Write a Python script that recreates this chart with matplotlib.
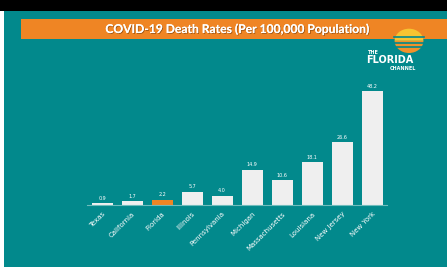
import matplotlib
matplotlib.use("Agg")
import matplotlib.pyplot as plt
import matplotlib.patheffects as pe
from matplotlib.patches import Rectangle, Wedge

states = ['Texas', 'California', 'Florida', 'Illinois', 'Pennsylvania',
          'Michigan', 'Massachusetts', 'Louisiana', 'New Jersey', 'New York']
death_rates = [0.9, 1.7, 2.2, 5.7, 4.0, 14.9, 10.6, 18.1, 26.6, 48.2]
highlight = 'Florida'

teal = '#02898c'
orange = '#ef8524'
bar_grey = '#efefef'

fig = plt.figure(figsize=(4.47, 2.68), dpi=100)
fig.patch.set_facecolor('white')

# background panels: black strip, teal slide, orange title banner
fig.patches.append(Rectangle((0, 1 - 11 / 268), 1, 11 / 268, transform=fig.transFigure,
                             facecolor='black', edgecolor='none', zorder=-3))
fig.patches.append(Rectangle((4 / 447, 1 / 268), 1, 1 - 12 / 268, transform=fig.transFigure,
                             facecolor=teal, edgecolor='none', zorder=-3))
fig.patches.append(Rectangle((21 / 447, 1 - 39 / 268), 1, 20 / 268, transform=fig.transFigure,
                             facecolor=orange, edgecolor='none', zorder=-2))

fig.text(238 / 447, 1 - 29.5 / 268, 'COVID-19 Death Rates (Per 100,000 Population)',
         ha='center', va='center', color='white', fontsize=8.7, fontweight='bold',
         family='Lato',
         path_effects=[pe.withSimplePatchShadow(offset=(0.6, -0.6), shadow_rgbFace='#8a4a10', alpha=0.8),
                       pe.Normal()])

# logo
logo = fig.add_axes([393 / 447, 1 - 53 / 268, 32 / 447, 27 / 268])
logo.set_xlim(-1, 1)
logo.set_ylim(-1, 1)
logo.axis('off')
logo.add_patch(Wedge((0, -0.1), 0.9, 0, 180, facecolor='#f6c431', edgecolor='none'))
logo.add_patch(Wedge((0, -0.1), 0.9, 180, 360, facecolor='#f2922a', edgecolor='none'))
for yy in (0.15, -0.25, -0.55):
    logo.plot([-0.95, 0.95], [yy, yy], color=teal, lw=1.2)
fig.text(368 / 447, 1 - 52 / 268, 'THE', color='white', fontsize=3.5, fontweight='bold',
         ha='left', va='center', family='DejaVu Sans')
fig.text(366 / 447, 1 - 60 / 268, 'FLORIDA', color='white', fontsize=7, fontweight='bold',
         ha='left', va='center', family='DejaVu Sans')
fig.text(416 / 447, 1 - 68 / 268, 'CHANNEL', color='white', fontsize=3.5, fontweight='bold',
         ha='right', va='center', family='DejaVu Sans')

ax = fig.add_axes([87 / 447, 1 - 205 / 268, 300 / 447, 130 / 268])
ax.set_facecolor('none')
colors = [orange if s == highlight else bar_grey for s in states]
bars = ax.bar(range(len(states)), death_rates, width=0.7, color=colors, zorder=2)
for b, v in zip(bars, death_rates):
    ax.text(b.get_x() + b.get_width() / 2, v + 1.0, f'{v:.1f}', ha='center', va='bottom',
            color='white', fontsize=3.5)

ax.set_xlim(-0.5, len(states) - 0.5)
ax.set_ylim(0, 55)
ax.set_xticks(range(len(states)))
ax.set_xticklabels(states, rotation=45, ha='right', rotation_mode='anchor',
                   color='white', fontsize=5)
ax.tick_params(axis='x', length=0, pad=4)
ax.set_yticks([])
for side in ('top', 'right', 'left'):
    ax.spines[side].set_visible(False)
ax.spines['bottom'].set_color('#6fbcbc')
ax.spines['bottom'].set_linewidth(0.8)

fig.savefig('out.png', dpi=100, facecolor=fig.get_facecolor())
